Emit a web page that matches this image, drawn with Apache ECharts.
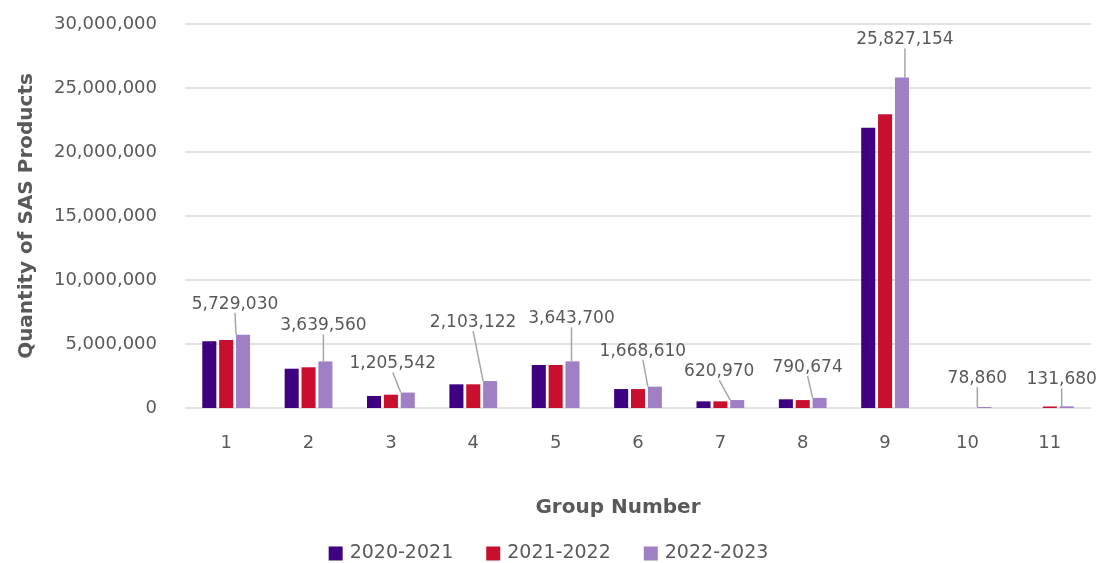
<!DOCTYPE html>
<html>
<head>
<meta charset="utf-8">
<script src="https://cdn.jsdelivr.net/npm/echarts@6/dist/echarts.min.js"></script>
<style>
  html, body { margin: 0; padding: 0; background: #fff; }
  #chart { width: 1097px; height: 563px; }
</style>
</head>
<body>
<div id="chart"></div>
<script>
const groups = ['1', '2', '3', '4', '5', '6', '7', '8', '9', '10', '11'];
const seriesNames = ['2020-2021', '2021-2022', '2022-2023'];
const y2020 = [5210000, 3070000, 940000, 1850000, 3360000, 1480000, 520000, 680000, 21900000, 0, 0];
const y2021 = [5310000, 3180000, 1040000, 1850000, 3360000, 1480000, 520000, 620000, 22950000, 0, 120000];
const y2022 = [5729030, 3639560, 1205542, 2103122, 3643700, 1668610, 620970, 790674, 25827154, 78860, 131680];
const yTicks = [0, 5000000, 10000000, 15000000, 20000000, 25000000, 30000000];

// callout offsets for the 2022-2023 labels (dx, dy)
const labelShift = [
  [-8, -9], [-2, -14], [-15, -7], [-17, -37], [-1, -21], [-12, -14],
  [-18, -7], [-12, -9], [3, -16], [-7, -7], [-5, -5]
];

const colors = ['#3d0080', '#c8102e', '#9f80c4'];
const font = '"DejaVu Sans", sans-serif';
const textColor = '#595959';
const fmt = (v) => Number(v).toLocaleString('en-US');

const chart = echarts.init(document.getElementById('chart'));

const makeSeries = (name, data, i) => {
  const s = {
    name: name,
    type: 'bar',
    data: data,
    barGap: '20%',
    barCategoryGap: '42%',
    itemStyle: { color: colors[i] },
  };
  if (i === 2) {
    s.label = {
      show: true,
      position: 'top',
      color: textColor,
      fontFamily: font,
      fontSize: 17,
      padding: [0, 0, 8, 0],
      formatter: (p) => fmt(p.value),
    };
    s.labelLine = {
      show: true,
      lineStyle: { color: '#a6a6a6', width: 1.5 },
    };
    s.labelLayout = (p) => ({
      dx: labelShift[p.dataIndex][0],
      dy: labelShift[p.dataIndex][1],
    });
  }
  return s;
};

const option = {
  backgroundColor: '#fff',
  color: colors,
  grid: { left: 185, right: 6, top: 24, bottom: 155 },
  legend: {
    top: 539,
    left: 'center',
    itemWidth: 14,
    itemHeight: 14,
    itemGap: 33,
    icon: 'rect',
    textStyle: { color: textColor, fontFamily: font, fontSize: 19, padding: [0, 0, 0, 2] },
    data: seriesNames,
  },
  xAxis: {
    type: 'category',
    data: groups,
    name: 'Group Number',
    nameLocation: 'middle',
    nameGap: 90,
    nameTextStyle: {
      color: textColor, fontFamily: font, fontSize: 20, fontWeight: 'bold',
      padding: [0, 40, 0, 0],
    },
    axisLine: { show: false },
    axisTick: { show: false },
    axisLabel: { color: textColor, fontFamily: font, fontSize: 18, margin: 26 },
  },
  yAxis: {
    type: 'value',
    min: 0,
    max: 30000000,
    interval: 5000000,
    name: 'Quantity of SAS Products',
    nameLocation: 'middle',
    nameGap: 148,
    nameTextStyle: { color: textColor, fontFamily: font, fontSize: 20, fontWeight: 'bold' },
    axisLabel: {
      color: textColor,
      fontFamily: font,
      fontSize: 18,
      margin: 28,
      formatter: (v) => (yTicks.indexOf(v) >= 0 ? fmt(v) : ''),
    },
    splitLine: { lineStyle: { color: '#d9d9d9', width: 1.5 } },
  },
  series: [
    makeSeries(seriesNames[0], y2020, 0),
    makeSeries(seriesNames[1], y2021, 1),
    makeSeries(seriesNames[2], y2022, 2),
  ],
};

chart.setOption(option);
</script>
</body>
</html>
